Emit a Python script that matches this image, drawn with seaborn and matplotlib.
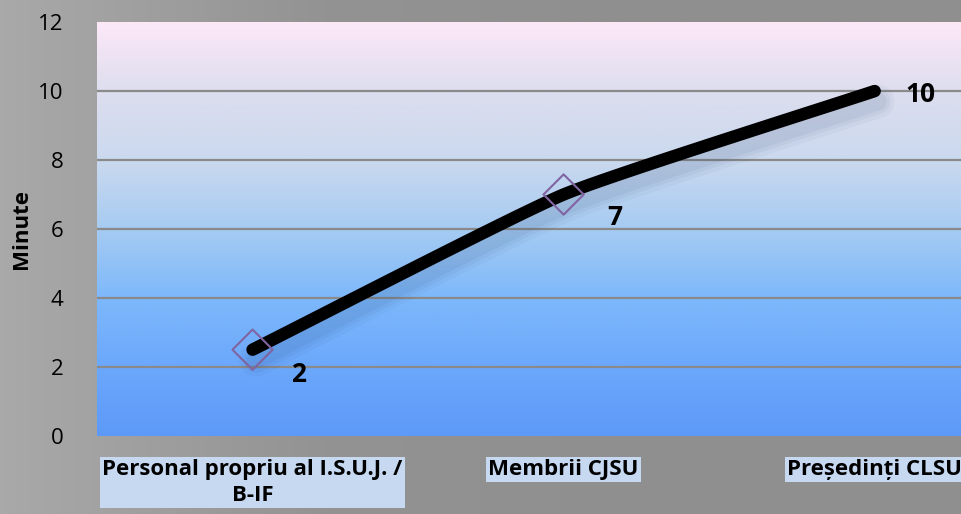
import numpy as np
import pandas as pd
import seaborn as sns
import matplotlib.pyplot as plt
from matplotlib.colors import LinearSegmentedColormap

sns.set_theme(style="white")
plt.rcParams['font.family'] = ['Open Sans', 'DejaVu Sans']

categories = ["Personal propriu al I.S.U.J. /\nB-IF", "Membrii CJSU", "Președinți CLSU"]
minutes = [2.5, 7, 10]
value_labels = ["2", "7", "10"]
yticks = [0, 2, 4, 6, 8, 10, 12]

fig = plt.figure(figsize=(9.61, 5.14), dpi=100)
fig.patch.set_facecolor("#909090")

# gray background with lighter left edge
bg = fig.add_axes([0, 0, 1, 1], zorder=-10)
bg_cmap = LinearSegmentedColormap.from_list("bg", ["#a9a9a9", "#939393", "#8f8f8f", "#8f8f8f"])
bg.imshow(np.linspace(0, 1, 256).reshape(1, -1), aspect="auto", cmap=bg_cmap, extent=[0, 1, 0, 1])
bg.set_axis_off()

ax = fig.add_axes([0.101, 0.152, 0.971, 0.805])
ax.set_xlim(-0.5, 2.5)
ax.set_ylim(0, 12)

# plot area gradient
grad_cmap = LinearSegmentedColormap.from_list(
    "plot", [(0.0, "#5d9af8"), (0.17, "#6ca8fb"), (0.33, "#7db8fb"), (0.5, "#a6cbf2"),
             (0.67, "#cbd9ee"), (0.83, "#dcdeee"), (1.0, "#fde8f8")])
ax.imshow(np.linspace(0, 1, 256).reshape(-1, 1), origin="lower", aspect="auto",
          cmap=grad_cmap, extent=[-0.5, 2.5, 0, 12], zorder=0)

for y in yticks[1:-1]:
    ax.axhline(y, color="#8a8a8a", lw=1.6, zorder=1)

# smoothed line (cardinal spline through the points, low tension)
xs = np.arange(len(minutes), dtype=float)
ys = np.array(minutes, dtype=float)
c = 0.45
def tangents(p):
    m = np.zeros_like(p)
    m[1:-1] = c * (p[2:] - p[:-2]) / 2
    m[0] = c * (p[1] - p[0])
    m[-1] = c * (p[-1] - p[-2])
    return m
mx, my = tangents(xs), tangents(ys)
t = np.linspace(0, 1, 40)
h00 = 2 * t ** 3 - 3 * t ** 2 + 1
h10 = t ** 3 - 2 * t ** 2 + t
h01 = -2 * t ** 3 + 3 * t ** 2
h11 = t ** 3 - t ** 2
cx, cy = [], []
for i in range(len(xs) - 1):
    cx.extend(h00 * xs[i] + h10 * mx[i] + h01 * xs[i + 1] + h11 * mx[i + 1])
    cy.extend(h00 * ys[i] + h10 * my[i] + h01 * ys[i + 1] + h11 * my[i + 1])
smooth = pd.DataFrame({"x": cx, "y": cy})

# soft shadow
for w, a in ((24, 0.04), (18, 0.05), (13, 0.06)):
    ax.plot(smooth["x"] + 0.01, smooth["y"] - 0.3, color="#1a3a6a", lw=w, alpha=a,
            solid_capstyle="round", zorder=2)

sns.lineplot(data=smooth, x="x", y="y", ax=ax, color="black", lw=9, sort=False,
             estimator=None, zorder=4)
ax.lines[-1].set_solid_capstyle("round")

sns.scatterplot(x=xs[:2], y=ys[:2], ax=ax, marker="D", s=420, facecolor="none",
                edgecolor="#8064a2", linewidth=1.5, zorder=5)

offsets = [(0.125, -0.73), (0.14, -0.68), (0.1, -0.09)]
for x, y, lab, (dx, dy) in zip(xs, ys, value_labels, offsets):
    ax.text(x + dx, y + dy, lab, fontsize=19, fontweight="bold", ha="left", va="center",
            color="black", zorder=6)

ax.set_xticks(xs)
ax.set_xticklabels(categories, fontsize=16, fontweight="bold", linespacing=1.3, color="black")
for lbl in ax.get_xticklabels():
    lbl.set_bbox(dict(facecolor="#c6d9f1", edgecolor="none", pad=1.5))
    lbl.set_multialignment("center")
ax.set_yticks(yticks)
ax.set_yticklabels([str(v) for v in yticks], fontsize=16, color="black")
ax.tick_params(axis="x", length=0, pad=17)
ax.tick_params(axis="y", length=0, pad=24)
ax.set_xlabel("")
ax.set_ylabel("Minute", fontsize=16, fontweight="bold", color="black")
ax.yaxis.set_label_coords(-0.07, 0.5)
for s in ax.spines.values():
    s.set_visible(False)

fig.savefig("out.png", dpi=100, facecolor=fig.get_facecolor())
